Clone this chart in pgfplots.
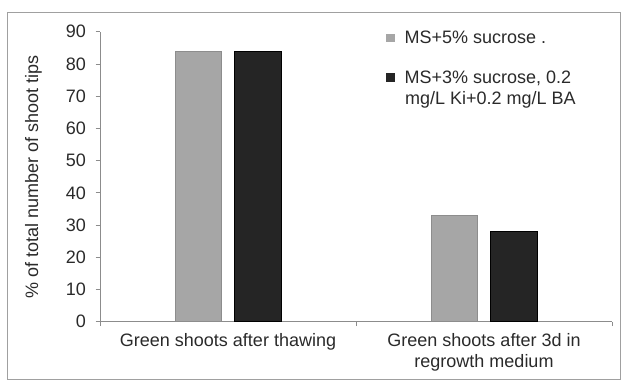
\documentclass[border=0pt]{standalone}
\usepackage{fontspec}
\setmainfont{Liberation Sans}
\usepackage{pgfplots}
\pgfplotsset{compat=1.18}
\definecolor{txt}{HTML}{2A2A2A}
\definecolor{axg}{HTML}{8C8C8C}
\definecolor{frm}{HTML}{A0A0A0}
\definecolor{barg}{HTML}{A6A6A6}
\definecolor{barb}{HTML}{252525}
\begin{document}
\begin{tikzpicture}[x=1bp,y=1bp]
\useasboundingbox (0,0) rectangle (622,381);
\draw[color=frm, line width=0.9bp] (7,1.5) rectangle (620.5,368.5);
\begin{axis}[
  at={(100bp,59.3bp)}, anchor=south west,
  scale only axis, width=512bp, height=290bp,
  xmin=-0.5, xmax=1.5, ymin=0, ymax=90,
  axis x line*=bottom, axis y line*=left,
  axis line style={color=axg, line width=0.8bp},
  every tick/.style={color=axg, line width=0.8bp},
  tick align=outside, major tick length=4.5bp,
  ytick={0,10,...,90},
  xtick={-0.5,0.5,1.5},
  x tick label as interval,
  xticklabels={{\begin{tabular}{@{}c@{}}Green shoots after thawing\end{tabular}},
               {\begin{tabular}{@{}c@{}}Green shoots after 3d in\\regrowth medium\end{tabular}}},
  x tick label style={font=\fontsize{18bp}{21bp}\selectfont, text=txt, yshift=-2.5bp},
  y tick label style={font=\fontsize{18bp}{21bp}\selectfont, text=txt, xshift=-6bp},
  /pgf/number format/assume math mode=true,
  ylabel={\% of total number of shoot tips},
  ylabel style={at={(axis description cs:-0.13,0.5)}, anchor=center, rotate=0, font=\fontsize{18bp}{21bp}\selectfont, text=txt},
  ybar=13bp, bar width=46.5bp,
  legend style={at={(axis description cs:0.553,1.018)}, anchor=north west, draw=none, fill=none,
    font=\fontsize{18bp}{21bp}\selectfont, text=txt, row sep=22bp,
    cells={anchor=base west}},
  clip=false,
]
\addplot[fill=barg, draw=barg!85!black, line width=0.6bp,
  legend image code/.code={\fill[barg] (0bp,1.5bp) rectangle (7.5bp,9bp); \path[draw=none,fill=none] (0bp,2bp) -- (16bp,2bp);}]
  coordinates {(0,84) (1,33)};
\addplot[fill=barb, draw=black, line width=0.6bp,
  legend image code/.code={\fill[barb] (0bp,2bp) rectangle (8bp,10bp);}]
  coordinates {(0,84) (1,28)};
\legend{{\vtop{\hbox{MS+5\% sucrose .}}},{\vtop{\hbox{MS+3\% sucrose, 0.2}\hbox{\hspace{0.5bp}mg/L Ki+0.2 mg/L BA}}}}
\end{axis}
\end{tikzpicture}
\end{document}
